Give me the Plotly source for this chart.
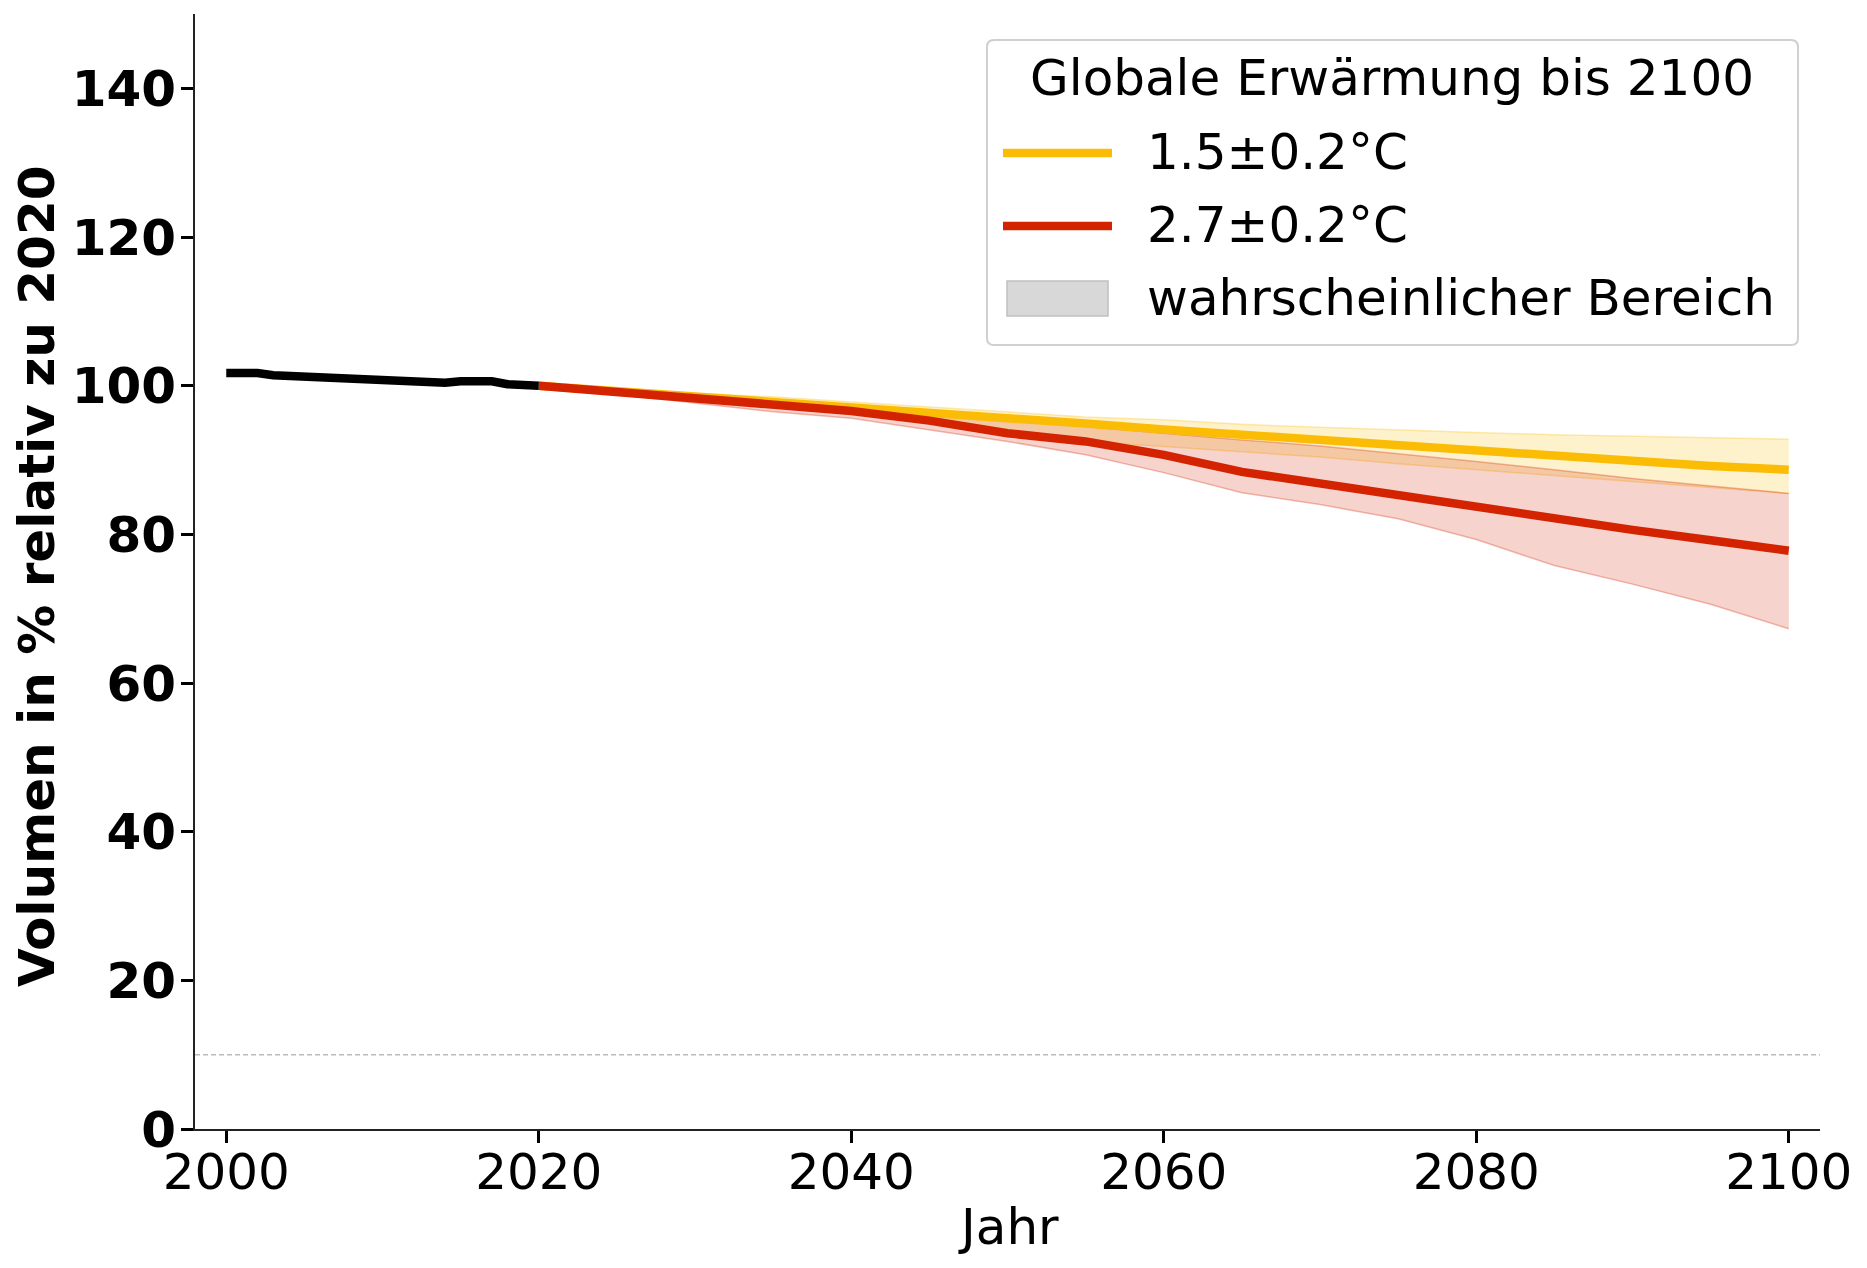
import plotly.graph_objects as go

# ---------------- data ----------------
hist_years = list(range(2000, 2021))
hist_vals = [101.7, 101.7, 101.7, 101.4, 101.3, 101.3, 101.3, 101.1, 101.0, 101.0,
             100.9, 100.8, 100.7, 100.6, 100.4, 100.6, 100.6, 100.6, 100.2, 100.1, 100.0]

proj_years = [2020, 2025, 2030, 2035, 2040, 2045, 2050, 2055, 2060,
              2065, 2070, 2075, 2080, 2085, 2090, 2095, 2100]

low_mid = [100.0, 99.3, 98.6, 97.9, 97.2, 96.4, 95.6, 94.9, 94.1,
           93.4, 92.6, 92.0, 91.3, 90.5, 89.9, 89.2, 88.7]
low_hi = [100.0, 99.5, 99.0, 98.5, 97.8, 97.1, 96.5, 95.8, 95.4,
          94.8, 94.4, 94.0, 93.7, 93.4, 93.2, 93.0, 92.8]
low_lo = [100.0, 99.1, 98.2, 97.3, 96.3, 95.1, 93.8, 92.5, 91.8,
          91.1, 90.4, 89.5, 88.7, 88.0, 87.2, 86.3, 85.5]

high_mid = [100.0, 99.1, 98.3, 97.3, 96.6, 95.3, 93.6, 92.5, 90.7,
            88.4, 86.8, 85.2, 83.6, 82.2, 80.6, 79.2, 77.8]
high_hi = [100.0, 99.3, 98.7, 98.1, 97.2, 96.3, 95.3, 94.4, 93.5,
           92.7, 91.9, 90.9, 89.8, 88.7, 87.5, 86.5, 85.5]
high_lo = [100.0, 98.8, 97.7, 96.5, 95.6, 94.0, 92.5, 90.7, 88.3,
           85.6, 84.0, 82.1, 79.3, 75.8, 73.3, 70.6, 67.3]

threshold = 10
x_ticks = [2000, 2020, 2040, 2060, 2080, 2100]
y_ticks = [0, 20, 40, 60, 80, 100, 120, 140]

legend_title = "Globale Erwärmung bis 2100"
label_low = "1.5±0.2°C"
label_high = "2.7±0.2°C"
label_band = "wahrscheinlicher Bereich"

# ---------------- style ----------------
YEL = "#FBBC05"
RED = "#D42300"
FONT = "DejaVu Sans"
FS = 50
OFF = 8                      # default page body margin
W, H = 1867 - 2 * OFF, 1268 - 2 * OFF
L, T, R, B = 195 - OFF, 14 - OFF, 1820 - OFF, 1129 - OFF
ML, MT, MR, MB = L, T, W - R, H - B

fig = go.Figure()

def band(lo, hi, rgb):
    fig.add_trace(go.Scatter(x=proj_years, y=hi, mode="lines",
                             line=dict(color=f"rgba({rgb},0.30)", width=1.5),
                             hoverinfo="skip", showlegend=False))
    fig.add_trace(go.Scatter(x=proj_years, y=lo, mode="lines", fill="tonexty",
                             fillcolor=f"rgba({rgb},0.20)",
                             line=dict(color=f"rgba({rgb},0.30)", width=1.5),
                             hoverinfo="skip", showlegend=False))

band(low_lo, low_hi, "251,188,5")
band(high_lo, high_hi, "212,35,0")

LW = 8.5
fig.add_trace(go.Scatter(x=proj_years, y=low_mid, mode="lines",
                         line=dict(color=YEL, width=LW), showlegend=False))
fig.add_trace(go.Scatter(x=proj_years, y=high_mid, mode="lines",
                         line=dict(color=RED, width=LW), showlegend=False))
fig.add_trace(go.Scatter(x=hist_years, y=hist_vals, mode="lines",
                         line=dict(color="black", width=LW), showlegend=False))

# threshold dashed line
fig.add_shape(type="line", xref="paper", x0=0, x1=1, yref="y", y0=threshold, y1=threshold,
              line=dict(color="#BBBBBB", width=1.5, dash="5px,3px"), layer="below")

# ---------------- manual legend (positions in image pixels) ----------------
pw = R - L
ph = B - T

def px(ix):
    return (ix - OFF - L) / pw

def py(iy):
    return (B - (iy - OFF)) / ph

bx0, bx1, by0, by1 = 987, 1798, 40, 345
r = 7
rx, ry = r / pw, r / ph
X0, X1, Y0, Y1 = px(bx0), px(bx1), py(by0), py(by1)
path = (f"M {X0+rx},{Y0} L {X1-rx},{Y0} Q {X1},{Y0} {X1},{Y0-ry} "
        f"L {X1},{Y1+ry} Q {X1},{Y1} {X1-rx},{Y1} L {X0+rx},{Y1} "
        f"Q {X0},{Y1} {X0},{Y1+ry} L {X0},{Y0-ry} Q {X0},{Y0} {X0+rx},{Y0} Z")
fig.add_shape(type="path", xref="paper", yref="paper", path=path,
              fillcolor="rgba(255,255,255,0.8)", line=dict(color="#D0D0D0", width=2))

fig.add_shape(type="line", xref="paper", yref="paper",
              x0=px(1003), x1=px(1112), y0=py(153), y1=py(153),
              line=dict(color=YEL, width=LW))
fig.add_shape(type="line", xref="paper", yref="paper",
              x0=px(1003), x1=px(1112), y0=py(226), y1=py(226),
              line=dict(color=RED, width=LW))
fig.add_shape(type="rect", xref="paper", yref="paper",
              x0=px(1007), x1=px(1108), y0=py(281), y1=py(316),
              fillcolor="#D8D8D8", line=dict(color="#C0C0C0", width=1.5))

ann_font = dict(family=FONT, size=FS, color="black")
fig.add_annotation(xref="paper", yref="paper", x=px(1392), y=py(78), text=legend_title,
                   showarrow=False, xanchor="center", yanchor="middle", font=ann_font)
fig.add_annotation(xref="paper", yref="paper", x=px(1145), y=py(152), text=label_low,
                   showarrow=False, xanchor="left", yanchor="middle", font=ann_font)
fig.add_annotation(xref="paper", yref="paper", x=px(1145), y=py(225), text=label_high,
                   showarrow=False, xanchor="left", yanchor="middle", font=ann_font)
fig.add_annotation(xref="paper", yref="paper", x=px(1145), y=py(298), text=label_band,
                   showarrow=False, xanchor="left", yanchor="middle", font=ann_font)

# axis titles
fig.add_annotation(xref="paper", yref="paper", x=px(1008), y=py(1227), text="Jahr",
                   showarrow=False, xanchor="center", yanchor="middle", font=ann_font)
fig.add_annotation(xref="paper", yref="paper", x=px(37), y=py(577),
                   text="Volumen in % relativ zu 2020", textangle=-90,
                   showarrow=False, xanchor="center", yanchor="middle",
                   font=dict(family=FONT, size=FS, color="black", weight="bold"))

fig.update_layout(
    width=W, height=H,
    margin=dict(l=ML, r=MR, t=MT, b=MB, pad=0),
    plot_bgcolor="white", paper_bgcolor="white",
    showlegend=False,
    xaxis=dict(range=[1998, 2102], tickvals=x_ticks, showgrid=False, zeroline=False,
               showline=True, linecolor="#222222", linewidth=2,
               ticks="outside", ticklen=12, tickwidth=2.5, tickcolor="black",
               ticklabelstandoff=-14,
               tickfont=dict(family=FONT, size=FS, color="black")),
    yaxis=dict(range=[0, 150], tickvals=y_ticks, showgrid=False, zeroline=False,
               showline=True, linecolor="#222222", linewidth=2,
               ticks="outside", ticklen=12, tickwidth=2.5, tickcolor="black",
               ticklabelstandoff=-5,
               tickfont=dict(family=FONT, size=FS, color="black", weight="bold")),
)

fig.write_html("out.html")
